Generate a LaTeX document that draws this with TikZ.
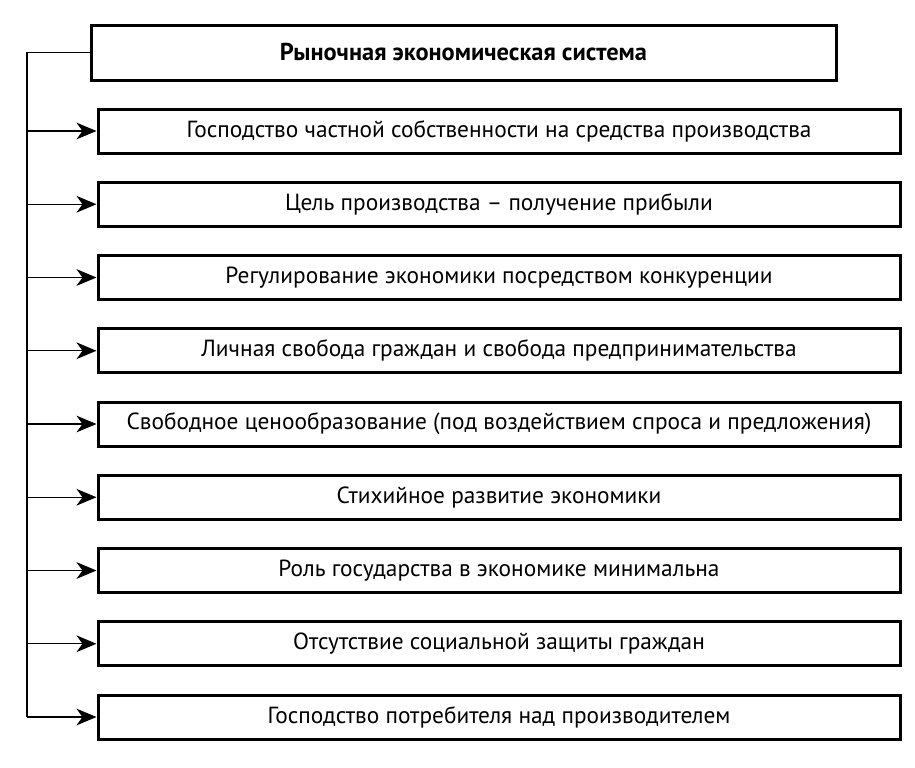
\documentclass[tikz,border=0pt]{standalone}
\usepackage{fontspec}
\setmainfont{PT Sans}
\usetikzlibrary{arrows.meta}

\tikzset{
  headbox/.style={draw, line width=2.25pt, minimum width=558.75pt, minimum height=41.25pt, inner sep=0pt, font=\fontsize{18.3}{22}\selectfont\bfseries},
  itembox/.style={draw, line width=2.25pt, minimum width=601.5pt, minimum height=33pt, inner sep=0pt, font=\fontsize{17.5}{21}\selectfont},
  feed/.style={line width=1.1pt},
  feedarrow/.style={line width=1.1pt, -{Stealth[length=15pt, width=12.5pt, inset=4.5pt]}}
}

\begin{document}
\begin{tikzpicture}[x=0.75pt,y=0.75pt,yscale=-1,xscale=1]
\useasboundingbox (0,0) rectangle (915,768);
%Title box
\node [headbox] (system) at (463.5,52.5) {Рыночная экономическая система};
%Feature boxes
\node [itembox] (own) at (499,131) {Господство частной собственности на средства производства};
\node [itembox] (goal) at (499,204.25) {Цель производства – получение прибыли};
\node [itembox] (compet) at (499,277.5) {Регулирование экономики посредством конкуренции};
\node [itembox] (freedom) at (499,350.75) {Личная свобода граждан и свобода предпринимательства};
\node [itembox] (prices) at (499,424) {Свободное ценообразование (под воздействием спроса и предложения)};
\node [itembox] (spont) at (499,497.25) {Стихийное развитие экономики};
\node [itembox] (state) at (499,570.5) {Роль государства в экономике минимальна};
\node [itembox] (social) at (499,643.75) {Отсутствие социальной защиты граждан};
\node [itembox] (consumer) at (499,717) {Господство потребителя над производителем};
%Trunk line
\coordinate (trunk) at (27,717);
\draw [feed] (system.west) -| (trunk);
%Arrows into boxes
\draw [feedarrow] (own.west -| trunk) -- (own.west);
\draw [feedarrow] (goal.west -| trunk) -- (goal.west);
\draw [feedarrow] (compet.west -| trunk) -- (compet.west);
\draw [feedarrow] (freedom.west -| trunk) -- (freedom.west);
\draw [feedarrow] (prices.west -| trunk) -- (prices.west);
\draw [feedarrow] (spont.west -| trunk) -- (spont.west);
\draw [feedarrow] (state.west -| trunk) -- (state.west);
\draw [feedarrow] (social.west -| trunk) -- (social.west);
\draw [feedarrow] (consumer.west -| trunk) -- (consumer.west);

\end{tikzpicture}
\end{document}
